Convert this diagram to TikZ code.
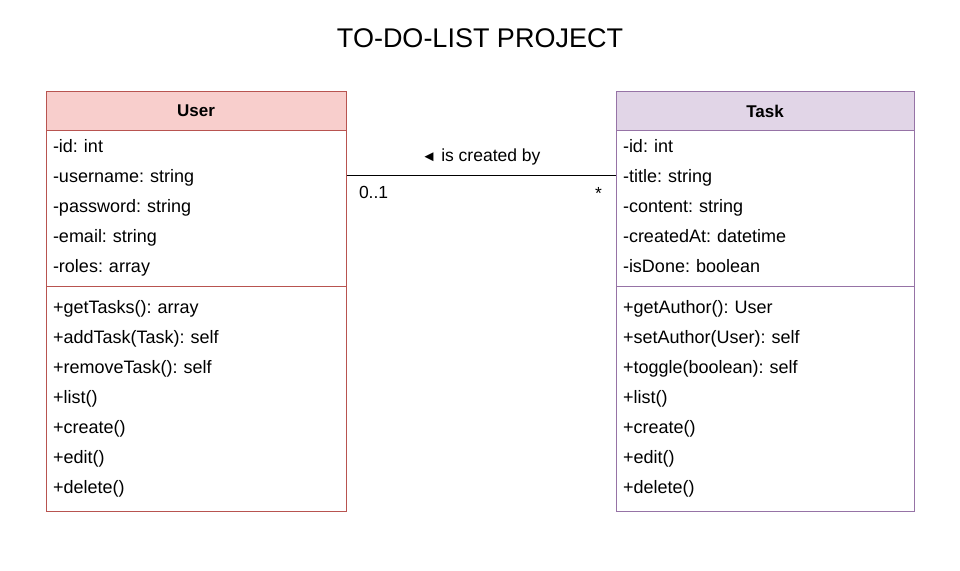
\documentclass[tikz,border=0pt]{standalone}
\usepackage{fontspec}
\setmainfont{Liberation Sans}
\usetikzlibrary{positioning}

\definecolor{userfill}{HTML}{F8CECC}
\definecolor{userline}{HTML}{B85450}
\definecolor{taskfill}{HTML}{E1D5E7}
\definecolor{taskline}{HTML}{9673A6}

\newcommand{\rowstrut}{\rule[-5pt]{0pt}{13pt}}

\tikzset{
	classhead/.style={draw, line width=1pt, minimum width=300pt, minimum height=39pt, inner sep=0pt, anchor=north, font=\fontsize{17}{20}\selectfont\bfseries},
	classpart/.style={draw, line width=1pt, minimum width=300pt, text width=286pt, inner xsep=7pt, inner ysep=0pt, align=left, anchor=north, font=\fontsize{18}{30}\selectfont\frenchspacing,
		execute at begin node=\rowstrut, execute at end node=\rowstrut},
	assoclabel/.style={font=\fontsize{17.5}{20}\selectfont, inner sep=0pt}
}

\begin{document}
\begin{tikzpicture}[x=1pt,y=-1pt]
	\useasboundingbox (0,0) rectangle (960,570);
	\node (title) at (480,38) [font=\fontsize{27}{30}\selectfont] {TO-DO-LIST PROJECT};

	% User class
	\path (196,91) node (userhead) [classhead, fill=userfill, draw=userline] {User}
		  (196,130) node (userattr) [classpart, draw=userline, minimum height=156pt] {-id: int\\-username: string\\-password: string\\-email: string\\-roles: array}
		  (196,286) node (usermeth) [classpart, draw=userline, minimum height=225pt] {+getTasks(): array\\+addTask(Task): self\\+removeTask(): self\\+list()\\+create()\\+edit()\\+delete()};

	% Task class
	\path (765,91) node (taskhead) [classhead, fill=taskfill, draw=taskline, minimum width=298pt] {Task}
		  (765,130) node (taskattr) [classpart, draw=taskline, minimum width=298pt, text width=284pt, minimum height=156pt] {-id: int\\-title: string\\-content: string\\-createdAt: datetime\\-isDone: boolean}
		  (765,286) node (taskmeth) [classpart, draw=taskline, minimum width=298pt, text width=284pt, minimum height=225pt] {+getAuthor(): User\\+setAuthor(User): self\\+toggle(boolean): self\\+list()\\+create()\\+edit()\\+delete()};

	\draw[line width=1pt] ([yshift=33pt]userattr.east) -- ([yshift=33pt]taskattr.west)
		node[pos=0.5, above=10pt, assoclabel] {{\fontsize{15}{15}\selectfont◄} is created by}
		node[pos=0, below right=10pt and 12pt, assoclabel] {0..1}
		node[pos=1, below left=11pt and 13pt, assoclabel] {*};
\end{tikzpicture}
\end{document}
